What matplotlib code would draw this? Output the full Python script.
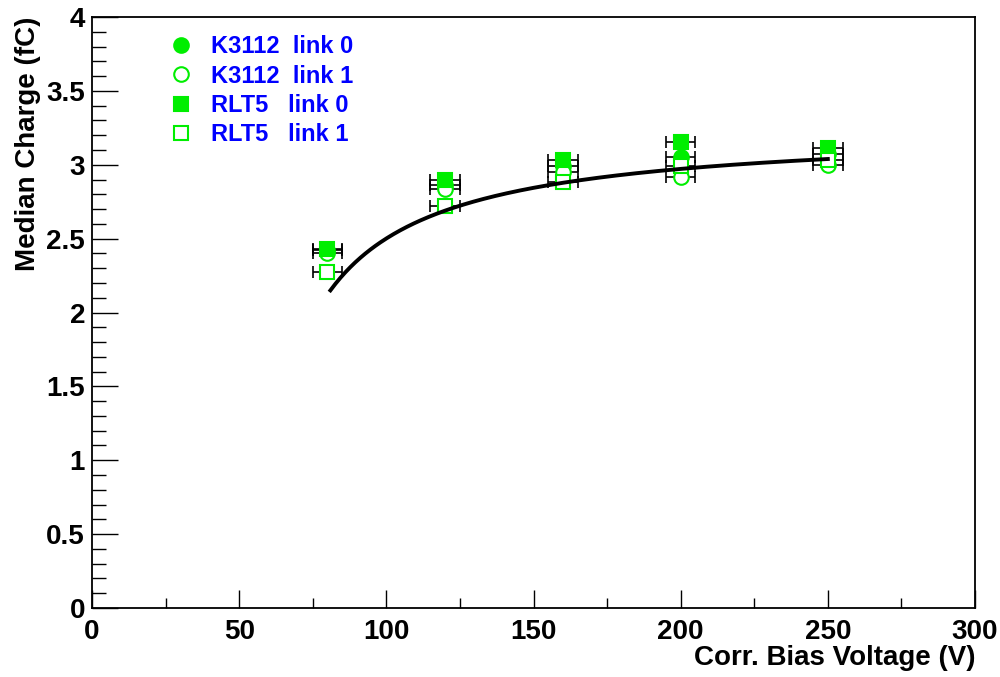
import numpy as np
import matplotlib
matplotlib.use("Agg")
import matplotlib.pyplot as plt
from matplotlib.lines import Line2D
from matplotlib.ticker import MultipleLocator

plt.rcParams['font.family'] = ['Liberation Sans', 'DejaVu Sans']
plt.rcParams['font.weight'] = 'bold'

# bias voltage points
voltage = [80, 120, 160, 200, 250]
volt_err = [5, 5, 5, 5, 5]

# median charge (fC) per sample / link
k3112_link0 = [2.42, 2.86, 2.99, 3.055, 3.07]
k3112_link1 = [2.40, 2.835, 2.95, 2.92, 3.00]
rlt5_link0 = [2.43, 2.895, 3.03, 3.155, 3.11]
rlt5_link1 = [2.275, 2.72, 2.885, 2.99, 3.03]

labels = ["K3112  link 0", "K3112  link 1", "RLT5   link 0", "RLT5   link 1"]

# fit: q = p0 - p1 / (V - p2), drawn from 81 V to 250 V
fit_par = [3.253, 44.9, 40.3]
fit_range = [81, 250]

green = '#00ee00'

fig = plt.figure(figsize=(10, 6.77), dpi=100)
ax = fig.add_axes([0.092, 0.1019, 0.883, 0.873])

series = [
    (k3112_link0, 'o', green),
    (k3112_link1, 'o', 'white'),
    (rlt5_link0, 's', green),
    (rlt5_link1, 's', 'white'),
]
handles = []
for (vals, mk, fc), lab in zip(series, labels):
    ms = 10.5 if mk == 'o' else 10
    ax.errorbar(voltage, vals, xerr=volt_err, fmt='none', ecolor='black',
                elinewidth=1.2, capsize=4, capthick=1.2, zorder=2)
    ax.plot(voltage, vals, linestyle='none', marker=mk, markersize=ms,
            markerfacecolor=fc, markeredgecolor=green, markeredgewidth=1.5, zorder=3)
    handles.append(Line2D([], [], linestyle='none', marker=mk, markersize=ms,
                          markerfacecolor=fc, markeredgecolor=green, markeredgewidth=1.5))

v = np.linspace(fit_range[0], fit_range[1], 300)
ax.plot(v, fit_par[0] - fit_par[1] / (v - fit_par[2]), color='black', lw=2.8, zorder=4)

ax.set_xlim(0, 300)
ax.set_ylim(0, 4)
ax.xaxis.set_major_locator(MultipleLocator(50))
ax.xaxis.set_minor_locator(MultipleLocator(25))
ax.yaxis.set_major_locator(MultipleLocator(0.5))
ax.yaxis.set_minor_locator(MultipleLocator(0.1))
ax.tick_params(axis='both', which='both', direction='in', top=False, right=False,
               labelsize=20, width=1)
ax.tick_params(axis='x', which='major', length=13, pad=8)
ax.tick_params(axis='x', which='minor', length=7)
ax.tick_params(axis='y', which='major', length=19, pad=5)
ax.tick_params(axis='y', which='minor', length=10)
ax.set_yticks([0, 0.5, 1, 1.5, 2, 2.5, 3, 3.5, 4])
ax.set_yticklabels(['0', '0.5', '1', '1.5', '2', '2.5', '3', '3.5', '4'])
for s in ax.spines.values():
    s.set_linewidth(1.3)

fig.text(0.975, 1 - 658 / 677, "Corr. Bias Voltage (V)", ha='right', va='center',
         fontsize=20, fontweight='bold')
fig.text(0.028, 0.975, "Median Charge (fC)", ha='center', va='top', rotation=90,
         fontsize=20, fontweight='bold')

leg = ax.legend(handles, labels, loc='upper left', bbox_to_anchor=(0.077, 0.985),
                frameon=False, fontsize=17, handletextpad=0.75, labelspacing=0.27,
                handlelength=1.0, borderaxespad=0)
for t in leg.get_texts():
    t.set_color('#0000ff')
    t.set_fontweight('bold')

fig.savefig("out.png", dpi=100)
